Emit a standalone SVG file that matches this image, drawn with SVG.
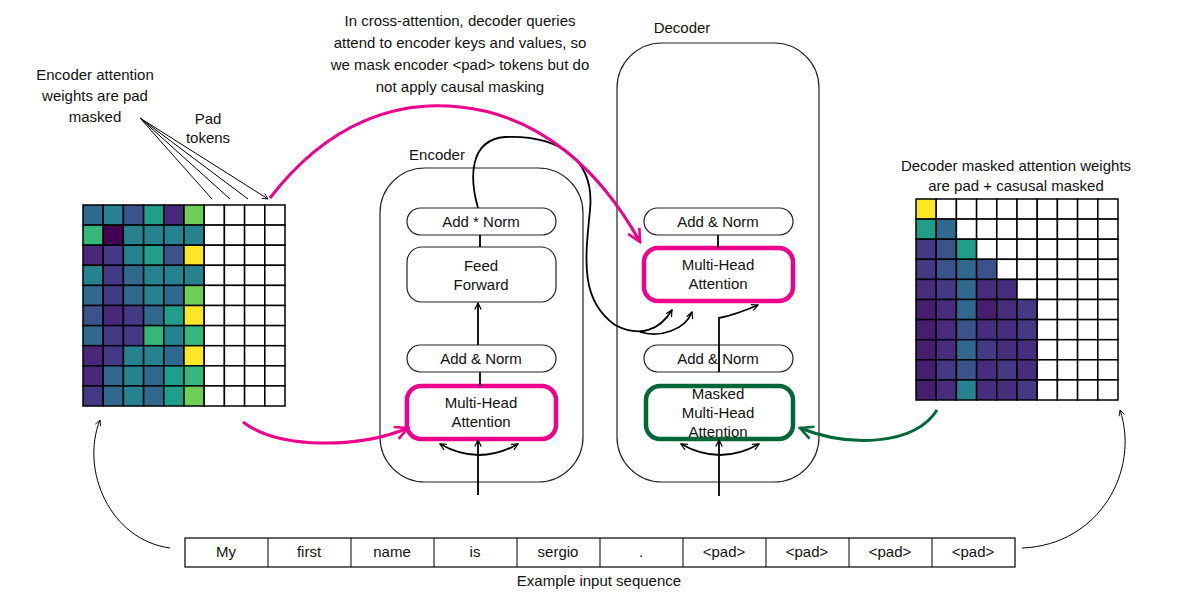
<svg xmlns="http://www.w3.org/2000/svg" width="1200" height="600" viewBox="0 0 1200 600">
<style>
text{font-family:"Liberation Sans",Arial,sans-serif;fill:#111;font-size:15px;text-anchor:middle}
.box{fill:#fff;stroke:#222;stroke-width:1.2}
.pk{fill:#fff;stroke:#ec008c;stroke-width:4.5}
.gr{fill:#fff;stroke:#006837;stroke-width:4.5}
.ln{fill:none;stroke:#000;stroke-width:1.8}
.thin{fill:none;stroke:#000;stroke-width:1}
.pl{fill:none;stroke:#ec008c;stroke-width:3}
.gl{fill:none;stroke:#006837;stroke-width:3}
.cells rect{stroke:#000;stroke-width:1.5;width:20.2px;height:20.1px;fill:#fff}
.cells rect.a{fill:#3b528b}.cells rect.b{fill:#31688e}.cells rect.c{fill:#26828e}.cells rect.d{fill:#1f9e89}
.cells rect.e{fill:#35b779}.cells rect.f{fill:#6ece58}.cells rect.g{fill:#fde725}.cells rect.h{fill:#482878}
.cells rect.i{fill:#440154}.cells rect.j{fill:#443983}.cells rect.k{fill:#471e6d}.cells rect.m{fill:#472d7b}
</style>
<defs>
<marker id="ah" viewBox="0 0 10 10" refX="9" refY="5" markerWidth="8" markerHeight="8" orient="auto-start-reverse" markerUnits="userSpaceOnUse"><path d="M1,1 L9,5 L1,9" fill="none" stroke="#000" stroke-width="1.5"/></marker>
<marker id="ahs" viewBox="0 0 10 10" refX="9" refY="5" markerWidth="7" markerHeight="7" orient="auto" markerUnits="userSpaceOnUse"><path d="M1,1 L9,5 L1,9" fill="none" stroke="#000" stroke-width="1.2"/></marker>
<marker id="ap" viewBox="0 0 10 10" refX="9" refY="5" markerWidth="16" markerHeight="16" orient="auto" markerUnits="userSpaceOnUse"><path d="M1,1 L9,5 L1,9" fill="none" stroke="#ec008c" stroke-width="1.6"/></marker>
<marker id="ag" viewBox="0 0 10 10" refX="9" refY="5" markerWidth="16" markerHeight="16" orient="auto" markerUnits="userSpaceOnUse"><path d="M1,1 L9,5 L1,9" fill="none" stroke="#006837" stroke-width="1.6"/></marker>
</defs>
<rect width="1200" height="600" fill="#fff"/>

<g id="texts">
<text x="95" y="80">Encoder attention</text>
<text x="95" y="101">weights are pad</text>
<text x="95" y="122">masked</text>
<text x="208" y="124">Pad</text>
<text x="208" y="143">tokens</text>
<text x="460" y="26">In cross-attention, decoder queries</text>
<text x="460" y="48">attend to encoder keys and values, so</text>
<text x="460" y="70">we mask encoder &lt;pad&gt; tokens but do</text>
<text x="460" y="92">not apply causal masking</text>
<text x="437" y="160">Encoder</text>
<text x="682" y="33">Decoder</text>
<text x="1016" y="171">Decoder masked attention weights</text>
<text x="1016" y="191">are pad + casusal masked</text>
<text x="622" y="186" style="font-size:12px;fill:#ec008c;text-anchor:start">Q from decoder</text>
<text x="622" y="199" style="font-size:12px;fill:#ec008c;text-anchor:start">K,V from encoder</text>
<text x="599" y="586">Example input sequence</text>
</g>

<g id="encoder">
<rect x="380" y="168" width="203" height="314" rx="45" class="box"/>
<rect x="407" y="208" width="149" height="27" rx="13.5" class="box"/>
<text x="481" y="227">Add * Norm</text>
<rect x="407" y="247" width="149" height="55" rx="15" class="box"/>
<text x="481" y="271">Feed</text>
<text x="481" y="290">Forward</text>
<rect x="407" y="345" width="149" height="27" rx="13.5" class="box"/>
<text x="481" y="364">Add &amp; Norm</text>
<rect x="407" y="386" width="149" height="53" rx="14" class="pk"/>
<text x="481" y="408">Multi-Head</text>
<text x="481" y="427">Attention</text>
</g>

<g id="decoder">
<rect x="617" y="43" width="202" height="439" rx="45" class="box"/>
<rect x="644" y="208" width="149" height="27" rx="13.5" class="box"/>
<text x="718" y="227">Add &amp; Norm</text>
<rect x="644" y="248" width="149" height="53" rx="14" class="pk"/>
<text x="718" y="270">Multi-Head</text>
<text x="718" y="289">Attention</text>
<rect x="644" y="345" width="149" height="27" rx="13.5" class="box"/>
<text x="718" y="364">Add &amp; Norm</text>
<rect x="646" y="386" width="147" height="53" rx="14" class="gr"/>
<text x="718" y="399">Masked</text>
<text x="718" y="418">Multi-Head</text>
<text x="718" y="437">Attention</text>
</g>

<g id="sequence">
<rect x="185" y="538" width="830" height="29" class="box" style="stroke:#000"/>
<path class="thin" d="M268,538V567M351,538V567M434,538V567M517,538V567M600,538V567M683,538V567M766,538V567M849,538V567M932,538V567"/>
<text x="226" y="557">My</text><text x="309" y="557">first</text><text x="392" y="557">name</text><text x="475" y="557">is</text><text x="558" y="557">sergio</text><text x="641" y="557">.</text><text x="724" y="557">&lt;pad&gt;</text><text x="807" y="557">&lt;pad&gt;</text><text x="890" y="557">&lt;pad&gt;</text><text x="973" y="557">&lt;pad&gt;</text>
</g>

<g id="grid-encoder" class="cells" transform="translate(83,205)">
<g><rect class="b" x="0" y="0"/><rect class="c" x="20.2" y="0"/><rect class="a" x="40.4" y="0"/><rect class="d" x="60.6" y="0"/><rect class="h" x="80.8" y="0"/><rect class="f" x="101" y="0"/><rect x="121.2" y="0"/><rect x="141.4" y="0"/><rect x="161.6" y="0"/><rect x="181.8" y="0"/></g>
<g transform="translate(0,20.1)"><rect class="e" x="0"/><rect class="i" x="20.2"/><rect class="c" x="40.4"/><rect class="c" x="60.6"/><rect class="c" x="80.8"/><rect class="c" x="101"/><rect x="121.2"/><rect x="141.4"/><rect x="161.6"/><rect x="181.8"/></g>
<g transform="translate(0,40.2)"><rect class="h" x="0"/><rect class="j" x="20.2"/><rect class="c" x="40.4"/><rect class="d" x="60.6"/><rect class="a" x="80.8"/><rect class="g" x="101"/><rect x="121.2"/><rect x="141.4"/><rect x="161.6"/><rect x="181.8"/></g>
<g transform="translate(0,60.3)"><rect class="c" x="0"/><rect class="j" x="20.2"/><rect class="b" x="40.4"/><rect class="c" x="60.6"/><rect class="c" x="80.8"/><rect class="c" x="101"/><rect x="121.2"/><rect x="141.4"/><rect x="161.6"/><rect x="181.8"/></g>
<g transform="translate(0,80.4)"><rect class="b" x="0"/><rect class="j" x="20.2"/><rect class="b" x="40.4"/><rect class="c" x="60.6"/><rect class="b" x="80.8"/><rect class="f" x="101"/><rect x="121.2"/><rect x="141.4"/><rect x="161.6"/><rect x="181.8"/></g>
<g transform="translate(0,100.5)"><rect class="a" x="0"/><rect class="h" x="20.2"/><rect class="j" x="40.4"/><rect class="b" x="60.6"/><rect class="d" x="80.8"/><rect class="g" x="101"/><rect x="121.2"/><rect x="141.4"/><rect x="161.6"/><rect x="181.8"/></g>
<g transform="translate(0,120.6)"><rect class="b" x="0"/><rect class="j" x="20.2"/><rect class="j" x="40.4"/><rect class="e" x="60.6"/><rect class="c" x="80.8"/><rect class="e" x="101"/><rect x="121.2"/><rect x="141.4"/><rect x="161.6"/><rect x="181.8"/></g>
<g transform="translate(0,140.7)"><rect class="h" x="0"/><rect class="j" x="20.2"/><rect class="c" x="40.4"/><rect class="c" x="60.6"/><rect class="b" x="80.8"/><rect class="g" x="101"/><rect x="121.2"/><rect x="141.4"/><rect x="161.6"/><rect x="181.8"/></g>
<g transform="translate(0,160.8)"><rect class="h" x="0"/><rect class="b" x="20.2"/><rect class="c" x="40.4"/><rect class="b" x="60.6"/><rect class="d" x="80.8"/><rect class="e" x="101"/><rect x="121.2"/><rect x="141.4"/><rect x="161.6"/><rect x="181.8"/></g>
<g transform="translate(0,180.9)"><rect class="j" x="0"/><rect class="b" x="20.2"/><rect class="c" x="40.4"/><rect class="b" x="60.6"/><rect class="d" x="80.8"/><rect class="f" x="101"/><rect x="121.2"/><rect x="141.4"/><rect x="161.6"/><rect x="181.8"/></g>
</g>

<g id="grid-decoder" class="cells" transform="translate(916,199)">
<g><rect class="g" x="0"/><rect x="20.2"/><rect x="40.4"/><rect x="60.6"/><rect x="80.8"/><rect x="101"/><rect x="121.2"/><rect x="141.4"/><rect x="161.6"/><rect x="181.8"/></g>
<g transform="translate(0,20.1)"><rect class="d" x="0"/><rect class="b" x="20.2"/><rect x="40.4"/><rect x="60.6"/><rect x="80.8"/><rect x="101"/><rect x="121.2"/><rect x="141.4"/><rect x="161.6"/><rect x="181.8"/></g>
<g transform="translate(0,40.2)"><rect class="j" x="0"/><rect class="a" x="20.2"/><rect class="d" x="40.4"/><rect x="60.6"/><rect x="80.8"/><rect x="101"/><rect x="121.2"/><rect x="141.4"/><rect x="161.6"/><rect x="181.8"/></g>
<g transform="translate(0,60.3)"><rect class="j" x="0"/><rect class="a" x="20.2"/><rect class="b" x="40.4"/><rect class="a" x="60.6"/><rect x="80.8"/><rect x="101"/><rect x="121.2"/><rect x="141.4"/><rect x="161.6"/><rect x="181.8"/></g>
<g transform="translate(0,80.4)"><rect class="m" x="0"/><rect class="j" x="20.2"/><rect class="b" x="40.4"/><rect class="m" x="60.6"/><rect class="m" x="80.8"/><rect x="101"/><rect x="121.2"/><rect x="141.4"/><rect x="161.6"/><rect x="181.8"/></g>
<g transform="translate(0,100.5)"><rect class="k" x="0"/><rect class="m" x="20.2"/><rect class="b" x="40.4"/><rect class="k" x="60.6"/><rect class="m" x="80.8"/><rect class="j" x="101"/><rect x="121.2"/><rect x="141.4"/><rect x="161.6"/><rect x="181.8"/></g>
<g transform="translate(0,120.6)"><rect class="k" x="0"/><rect class="m" x="20.2"/><rect class="a" x="40.4"/><rect class="m" x="60.6"/><rect class="m" x="80.8"/><rect class="j" x="101"/><rect x="121.2"/><rect x="141.4"/><rect x="161.6"/><rect x="181.8"/></g>
<g transform="translate(0,140.7)"><rect class="k" x="0"/><rect class="m" x="20.2"/><rect class="b" x="40.4"/><rect class="j" x="60.6"/><rect class="m" x="80.8"/><rect class="m" x="101"/><rect x="121.2"/><rect x="141.4"/><rect x="161.6"/><rect x="181.8"/></g>
<g transform="translate(0,160.8)"><rect class="k" x="0"/><rect class="j" x="20.2"/><rect class="a" x="40.4"/><rect class="m" x="60.6"/><rect class="j" x="80.8"/><rect class="m" x="101"/><rect x="121.2"/><rect x="141.4"/><rect x="161.6"/><rect x="181.8"/></g>
<g transform="translate(0,180.9)"><rect class="k" x="0"/><rect class="m" x="20.2"/><rect class="c" x="40.4"/><rect class="m" x="60.6"/><rect class="m" x="80.8"/><rect class="j" x="101"/><rect x="121.2"/><rect x="141.4"/><rect x="161.6"/><rect x="181.8"/></g>
</g>

<g id="connectors">
<path class="ln" d="M480,235V247"/>
<path class="ln" d="M478,345V303" marker-end="url(#ah)"/>
<path class="ln" d="M480,372V386"/>
<path class="ln" d="M478,495V440" marker-end="url(#ah)"/>
<path class="ln" d="M440,444Q479,466 518,444" marker-start="url(#ah)" marker-end="url(#ah)"/>
<path class="ln" d="M718,235V248"/>
<path class="ln" d="M719,372V345"/>
<path class="ln" d="M719,345V318Q735,315 758,305" marker-end="url(#ah)"/>
<path class="ln" d="M719,496V440" marker-end="url(#ah)"/>
<path class="ln" d="M681,444Q720,466 759,444" marker-start="url(#ah)" marker-end="url(#ah)"/>
<path class="ln" d="M478,208C470,180 468,140 505,137C560,135 595,160 590,210C585,260 580,300 615,325C640,338 660,330 672,310" marker-end="url(#ah)"/>
<path class="ln" d="M640,332C660,338 685,330 692,312" marker-end="url(#ah)"/>
<path class="thin" d="M170,548C110,540 80,470 100,420" marker-end="url(#ahs)"/>
<path class="thin" d="M1022,548C1100,545 1140,470 1120,410" marker-end="url(#ahs)"/>
<path class="thin" d="M140,118L212,199M140,118L230,199M140,118L248,199M140,118L268,199" marker-end="url(#ahs)"/>
<path class="pl" d="M270,198C330,120 400,100 460,107C540,115 600,170 640,242" marker-end="url(#ap)"/>
<path class="pl" d="M243,422C280,450 360,448 408,428" marker-end="url(#ap)"/>
<path class="gl" d="M937,410C915,445 850,448 800,428" marker-end="url(#ag)"/>
</g>
</svg>
